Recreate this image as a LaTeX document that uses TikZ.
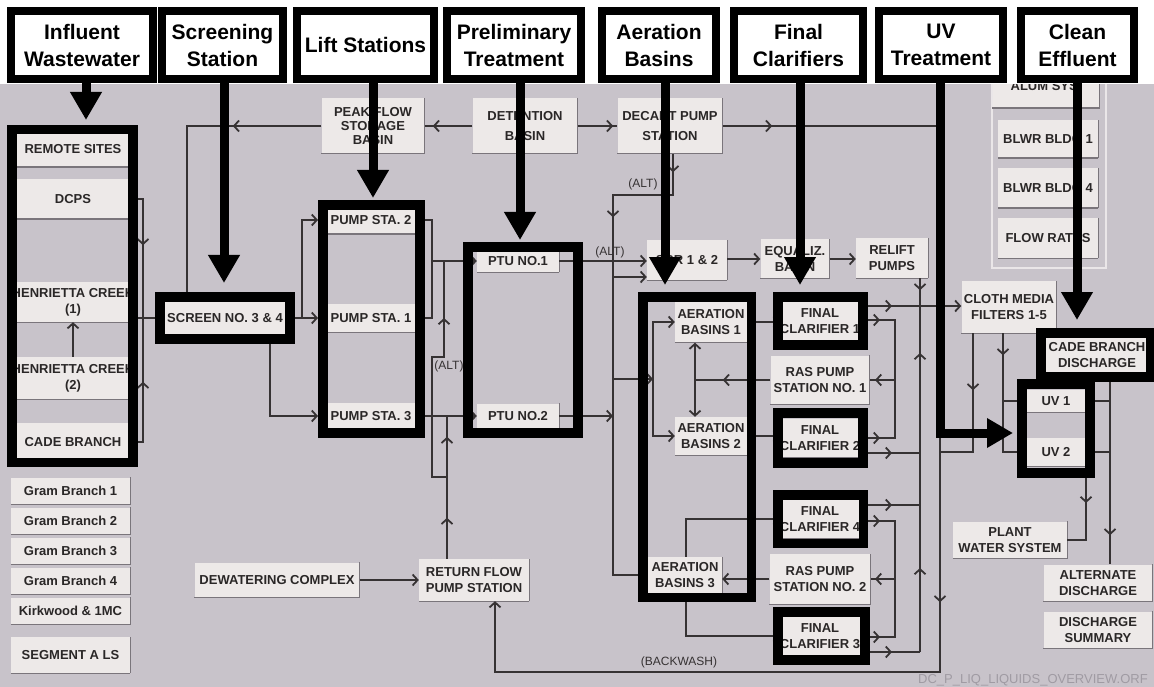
\documentclass[tikz,border=0pt]{standalone}
\usepackage{fontspec}
\setmainfont{Liberation Sans}
\usetikzlibrary{arrows.meta,decorations.markings}
\definecolor{bggray}{HTML}{C8C3CA}
\definecolor{boxfill}{HTML}{EDE9E8}
\definecolor{boxedge}{HTML}{7A757B}
\definecolor{boxtext}{HTML}{2A2727}
\definecolor{lncol}{HTML}{363233}
\definecolor{filecol}{HTML}{A09BA3}
\definecolor{rimlight}{HTML}{EAE6E8}
\begin{document}
\begin{tikzpicture}[x=1pt,y=-1pt,
  >={Straight Barb[length=5pt,width=11pt]},
  boxline/.style={draw=boxedge, line width=1.4pt, -},
  bx/.style={fill=boxfill, text=boxtext, font=\bfseries\fontsize{13}{16}\selectfont, align=center, inner sep=0pt,
    append after command={(\tikzlastnode.south west) edge[boxline] (\tikzlastnode.south east)
                          (\tikzlastnode.south east) edge[boxline] (\tikzlastnode.north east)}},
  hdr/.style={draw=black, line width=8pt, fill=white, align=center, inner sep=0pt, text=black,
    font=\bfseries\fontsize{21}{27}\selectfont, minimum height=68pt},
  frm/.style={draw=black, line width=9.5pt, inner sep=0pt},
  bigarr/.style={draw=black, line width=9pt, -{Triangle[width=30pt,length=28pt]}},
  ln/.style={draw, color=lncol, line width=1.8pt},
  arrat/.style={postaction={decorate, decoration={markings, mark=at position #1 with {\arrow{>}}}}},
  lbl/.style={text=lncol, font=\fontsize{12}{13}\selectfont, inner sep=0pt}
]
% ---------- background ----------
\fill[white] (0,0) rectangle (1154,687);
\fill[bggray] (0,84) rectangle (1154,687);
\useasboundingbox (0,0) rectangle (1154,687);

% ---------- top right panel ----------
\draw[rimlight, line width=1.5pt] (992,84) -- (992,268) -- (1106,268) -- (1106,84);

% ---------- light boxes ----------
\node[bx, minimum width=114pt, minimum height=36pt] (rem)  at (73,149) {REMOTE SITES};
\node[bx, minimum width=114pt, minimum height=40pt] (dcps) at (73,199) {DCPS};
\node[bx, minimum width=114pt, minimum height=40pt] (hc1)  at (73,302) {HENRIETTA CREEK\\(1)};
\node[bx, minimum width=114pt, minimum height=42pt] (hc2)  at (73,378) {HENRIETTA CREEK\\(2)};
\node[bx, minimum width=114pt, minimum height=38pt] (cade) at (73,442) {CADE BRANCH};

\node[bx, minimum width=119pt, minimum height=27pt] (gb1) at (70.5,491) {Gram Branch 1};
\node[bx, minimum width=119pt, minimum height=27pt] (gb2) at (70.5,521) {Gram Branch 2};
\node[bx, minimum width=119pt, minimum height=27pt] (gb3) at (70.5,551) {Gram Branch 3};
\node[bx, minimum width=119pt, minimum height=27pt] (gb4) at (70.5,581) {Gram Branch 4};
\node[bx, minimum width=119pt, minimum height=27pt] (kw)  at (70.5,611) {Kirkwood \& 1MC};
\node[bx, minimum width=119pt, minimum height=36pt] (seg) at (70.5,655) {SEGMENT A LS};

\node[bx, minimum width=124pt, minimum height=36pt] (scr) at (225,318) {SCREEN NO. 3 \& 4};

\node[bx, minimum width=103pt, minimum height=55pt, font=\bfseries\fontsize{13}{14}\selectfont] (peak) at (373,126) {PEAK FLOW\\STORAGE\\BASIN};
\node[bx, minimum width=105pt, minimum height=55pt, font=\bfseries\fontsize{13}{20}\selectfont] (det) at (525,126) {DETENTION\\BASIN};
\node[bx, minimum width=105pt, minimum height=55pt, font=\bfseries\fontsize{13}{20}\selectfont] (decant) at (670,126) {DECANT PUMP\\STATION};

\node[bx, minimum width=107pt, minimum height=44pt] (alum) at (1046,86) {ALUM SYS.};
\node[bx, minimum width=100pt, minimum height=38pt] (bl1)  at (1048,139) {BLWR BLDG 1};
\node[bx, minimum width=100pt, minimum height=40pt] (bl4)  at (1048,188) {BLWR BLDG 4};
\node[bx, minimum width=100pt, minimum height=40pt] (flow) at (1048,238) {FLOW RATES};

\node[bx, minimum width=88pt, minimum height=28pt] (p2) at (371,220) {PUMP STA. 2};
\node[bx, minimum width=88pt, minimum height=28pt] (p1) at (371,318) {PUMP STA. 1};
\node[bx, minimum width=88pt, minimum height=26pt] (p3) at (371,416) {PUMP STA. 3};
\node[bx, minimum width=82pt, minimum height=22pt] (ptu1) at (518,261) {PTU NO.1};
\node[bx, minimum width=82pt, minimum height=25pt] (ptu2) at (518,416) {PTU NO.2};

\node[bx, minimum width=80pt, minimum height=40pt] (sbr) at (687,260) {SBR 1 \& 2};
\node[bx, minimum width=69pt, minimum height=39pt] (eq) at (795,259) {EQUALIZ.\\BASIN};
\node[bx, minimum width=72pt, minimum height=40pt] (relift) at (892,258) {RELIFT\\PUMPS};
\node[bx, minimum width=95pt, minimum height=52pt] (cloth) at (1009,307) {CLOTH MEDIA\\FILTERS 1-5};
\node[bx, minimum width=105pt, minimum height=34pt] (cbd) at (1097,355) {CADE BRANCH\\DISCHARGE};
\node[bx, minimum width=58pt, minimum height=23pt] (uv1) at (1056,401) {UV 1};
\node[bx, minimum width=58pt, minimum height=28pt] (uv2) at (1056,452) {UV 2};

\node[bx, minimum width=72pt, minimum height=41pt] (ab1) at (711,322) {AERATION\\BASINS 1};
\node[bx, minimum width=72pt, minimum height=38pt] (ab2) at (711,436) {AERATION\\BASINS 2};
\node[bx, minimum width=74pt, minimum height=36pt] (ab3) at (685,575) {AERATION\\BASINS 3};

\node[bx, minimum width=76pt, minimum height=38pt] (fc1) at (820,321) {FINAL\\CLARIFIER 1};
\node[bx, minimum width=99pt, minimum height=49pt] (ras1) at (820,380) {RAS PUMP\\STATION NO. 1};
\node[bx, minimum width=76pt, minimum height=39pt] (fc2) at (820,438) {FINAL\\CLARIFIER 2};
\node[bx, minimum width=76pt, minimum height=39pt] (fc4) at (820,519) {FINAL\\CLARIFIER 4};
\node[bx, minimum width=101pt, minimum height=50pt] (ras2) at (820,579) {RAS PUMP\\STATION NO. 2};
\node[bx, minimum width=77pt, minimum height=38pt] (fc3) at (820,636) {FINAL\\CLARIFIER 3};

\node[bx, minimum width=165pt, minimum height=35pt] (dew) at (277,580) {DEWATERING COMPLEX};
\node[bx, minimum width=110pt, minimum height=42pt] (rfps) at (474,580) {RETURN FLOW\\PUMP STATION};
\node[bx, minimum width=114pt, minimum height=37pt] (pws) at (1010,540) {PLANT\\WATER SYSTEM};
\node[bx, minimum width=109pt, minimum height=37pt] (alt) at (1098,583) {ALTERNATE\\DISCHARGE};
\node[bx, minimum width=109pt, minimum height=37pt] (dsum) at (1098,630) {DISCHARGE\\SUMMARY};

% ---------- labels ----------
\node[lbl] (alt1) at (643,184) {(ALT)};
\node[lbl] (alt2) at (610,252) {(ALT)};
\node[lbl] (alt3) at (449,366) {(ALT)};
\node[lbl] (bw) at (679,662) {(BACKWASH)};
\node[text=filecol, font=\fontsize{13}{14}\selectfont, inner sep=0pt, anchor=west] (fname) at (918,680) {DC\_P\_LIQ\_LIQUIDS\_OVERVIEW.ORF};

% ---------- thin connectors ----------
% influent side
\draw[ln, arrat=59pt] (dcps.east) -| (143,318);
\draw[ln, arrat=73pt] (cade.east) -| (143,318);
\draw[ln] (hc1.east |- scr.west) -- (scr.west);
\draw[ln, ->] (hc2.north) -- (hc1.south);
\draw[ln, arrat=88.5pt] (peak.west) -| (187,292);
\draw[ln, arrat=39.5pt] (det.west) -- (peak.east);
\draw[ln, arrat=35.5pt] (det.east) -- (decant.west);
% decant main line and backwash
\draw[ln, arrat=49.5pt, arrat=693.5pt, ->] (decant.east) -- (940,126) -- (940,672) -- (495,672) -- (495,0 |- rfps.south);
% decant ALT path
\draw[ln, arrat=18.5pt, arrat=123.5pt] (673,0 |- decant.south) -- (673,195) -- (613,195) -- (613,0 |- ab3.west) -- (ab3.west);
% screen to pumps
\draw[ln, ->] (scr.east) -- (318,318);
\draw[ln, ->] (302,318) |- (318,220);
\draw[ln, ->] (270,340) |- (318,416);
% pumps to PTUs
\draw[ln] (p2.east) -- (432,220) -- (432,318) -- (p1.east);
\draw[ln, ->] (432,0 |- ptu1.west) -- (ptu1.west);
\draw[ln, arrat=110pt] (432,416) -- (432,357) -- (444,357) -- (444,261);
\draw[ln, ->] (p3.east) -- (ptu2.west);
\draw[ln] (432,416) -- (432,477) -- (447,477);
\draw[ln, arrat=41pt, arrat=122pt] (447,0 |- rfps.north) -- (447,416);
\draw[ln, ->] (dew.east) -- (rfps.west);
% PTUs to SBR and aeration
\draw[ln, ->] (ptu1.east) -- (sbr.west |- ptu1.east);
\draw[ln, ->] (613,277) -- (sbr.west |- 0,277);
\draw[ln, ->] (ptu2.east) -- (613,0 |- ptu2.east);
\draw[ln, ->] (613,379) -- (653,379);
\draw[ln, ->] (653,379) |- (ab1.west);
\draw[ln, ->] (653,379) |- (ab2.west);
\draw[ln, ->] (sbr.east |- eq.west) -- (eq.west);
\draw[ln, ->] (eq.east) -- (relift.west |- eq.east);
% aeration basins
\draw[ln, <->] (695,0 |- ab1.south) -- (695,0 |- ab2.north);
\draw[ln, arrat=47.5pt] (ras1.west) -- (695,0 |- ras1.west);
\draw[ln, ->] (ras2.west) -- (ab3.east |- ras2.west);
\draw[ln, ->] (ab1.east) -- (fc1.west |- ab1.east);
\draw[ln, ->] (ab2.east) -- (fc2.west |- ab2.east);
\draw[ln, ->] (686,0 |- ab3.north) |- (fc4.west);
\draw[ln, ->] (686,0 |- ab3.south) |- (fc3.west);
% final clarifier outputs
\draw[ln, arrat=24pt, ->] (868,306) -- (cloth.west |- 0,306);
\draw[ln, arrat=12pt] (920,0 |- relift.south) -- (920,306);
\draw[ln, arrat=84pt, arrat=299pt] (920,652) -- (920,306);
\draw[ln, arrat=12pt] (868,320) -| (895,0 |- ras1.east);
\draw[ln, arrat=12pt] (868,438) -| (895,0 |- ras1.east);
\draw[ln, arrat=20pt] (895,0 |- ras1.east) -- (ras1.east);
\draw[ln, arrat=24pt] (868,453) -- (920,453);
\draw[ln, arrat=24pt] (868,505) -- (920,505);
\draw[ln, arrat=12pt] (868,521) -| (895,0 |- ras2.east);
\draw[ln, arrat=12pt] (868,637) -| (895,0 |- ras2.east);
\draw[ln, arrat=20pt] (895,0 |- ras2.east) -- (ras2.east);
\draw[ln, arrat=24pt] (868,652) -- (920,652);
% cloth filters, UV, discharge
\draw[ln, arrat=57pt] (973,0 |- cloth.south) -- (973,452) -- (940,452);
\draw[ln, arrat=22pt] (1003,0 |- cloth.south) -- (1003,0 |- uv2.west) -- (uv2.west);
\draw[ln] (1003,0 |- uv1.west) -- (uv1.west);
\draw[ln] (uv1.east) -- (1110,0 |- uv1.east);
\draw[ln] (uv2.east) -- (1110,0 |- uv2.east);
\draw[ln, arrat=163pt] (1110,0 |- cbd.south) -- (1110,0 |- alt.north);
\draw[ln, arrat=30pt] (1086,473) |- (pws.east);

% ---------- white header strip ----------
\fill[white] (0,0) rectangle (1154,84);

% ---------- group frames ----------
\node[frm, minimum width=121pt, minimum height=333pt] (gInf) at (72.5,296) {};
\node[frm, minimum width=130pt, minimum height=42pt] (gScr) at (225,318) {};
\node[frm, minimum width=97pt, minimum height=228pt] (gPump) at (371.5,319) {};
\node[frm, minimum width=110pt, minimum height=186pt] (gPtu) at (523,340) {};
\node[frm, minimum width=108.5pt, minimum height=300.5pt] (gAer) at (697,447) {};
\node[frm, minimum width=85pt, minimum height=48pt] (gF1) at (820.5,321) {};
\node[frm, minimum width=85pt, minimum height=50pt] (gF2) at (820.5,438) {};
\node[frm, minimum width=85.5pt, minimum height=48.5pt] (gF4) at (820.75,519) {};
\node[frm, minimum width=87pt, minimum height=48pt] (gF3) at (821.5,636) {};
\node[frm, minimum width=110pt, minimum height=44pt] (gCbd) at (1096,355) {};
\node[frm, minimum width=68pt, minimum height=89pt] (gUV) at (1056,428.5) {};

% ---------- header boxes ----------
\node[hdr, minimum width=142pt] (hInf) at (82,45) {Influent\\Wastewater};
\node[hdr, minimum width=121pt] (hScr) at (222.5,45) {Screening\\Station};
\node[hdr, minimum width=137pt] (hLift) at (365.5,45) {Lift Stations};
\node[hdr, minimum width=134pt] (hPre) at (514,45) {Preliminary\\Treatment};
\node[hdr, minimum width=114pt] (hAer) at (659,45) {Aeration\\Basins};
\node[hdr, minimum width=129pt] (hFin) at (798.5,45) {Final\\Clarifiers};
\node[hdr, minimum width=124pt] (hUV) at (941,45) {UV\\Treatment};
\node[hdr, minimum width=113pt] (hCln) at (1077.5,45) {Clean\\Effluent};

% ---------- thick arrows ----------
\draw[bigarr] (86,0 |- hInf.south) -- ([yshift=4.75pt]86,0 |- gInf.north);
\draw[bigarr] (224,0 |- hScr.south) -- (224,283);
\draw[bigarr] (373,0 |- hLift.south) -- (373,198);
\draw[bigarr] (520,0 |- hPre.south) -- (520,240);
\draw[bigarr] (665,0 |- hAer.south) -- (665,285);
\draw[bigarr] (800,0 |- hFin.south) -- (800,285);
\draw[draw=black, line width=9pt, -{Triangle[width=28pt,length=26pt]}] (940,0 |- hUV.south) -- (940,433) -- (1013,433);
\draw[bigarr] (1077,0 |- hCln.south) -- (1077,320);
\end{tikzpicture}
\end{document}
